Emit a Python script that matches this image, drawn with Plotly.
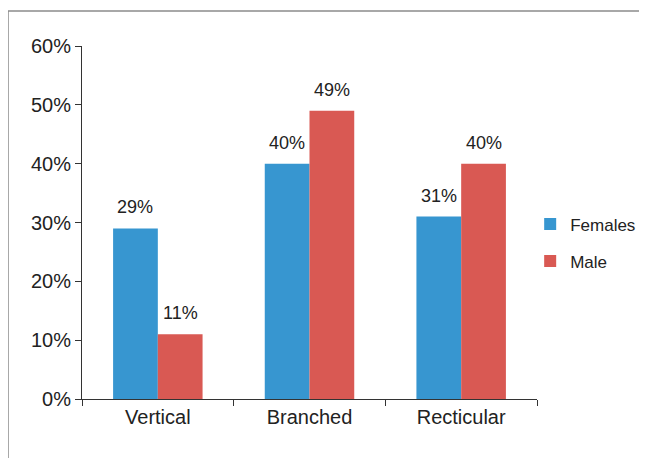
import plotly.graph_objects as go

categories = ["Vertical", "Branched", "Recticular"]
females = [29, 40, 31]
male = [11, 49, 40]
series_names = ["Females", "Male"]
colors = ["#3796D0", "#D95953"]
y_ticks = [0, 10, 20, 30, 40, 50, 60]
y_tick_labels = [f"{v}%" for v in y_ticks]

font_family = "Liberation Sans, Arial, sans-serif"
# page body adds an 8px offset; compensate in margins
L, T, PW, PH = 74, 38, 455, 353
fig = go.Figure()
for i, (name, vals) in enumerate(zip(series_names, [females, male])):
    fig.add_trace(go.Bar(
        x=categories, y=vals, name=name, marker_color=colors[i],
        marker_line_width=0, legendgroup=name, offsetgroup=str(i),
    ))

# data labels
n = len(series_names)
bw = (1 - 0.41) / n
for i, vals in enumerate([females, male]):
    for j, v in enumerate(vals):
        xoff = (i - (n - 1) / 2) * bw
        fig.add_annotation(
            x=j + xoff, y=v, xref="x", yref="y", text=f"{v}%",
            showarrow=False, yanchor="bottom", yshift=9,
            font=dict(family=font_family, size=18, color="#222"),
        )

# outer frame (reference frame at x=8, y=11 in page)
fig.add_shape(type="rect", xref="paper", yref="paper",
              x0=(8 - 82) / PW, x1=(690 - 82) / PW,
              y0=(399 - 490) / PH, y1=(399 - 11) / PH,
              line=dict(color="#8c8c8c", width=1.5), layer="below")

fig.update_layout(
    width=647, height=458,
    margin=dict(l=L, r=647 - L - PW, t=T, b=458 - T - PH, autoexpand=False),
    paper_bgcolor="white", plot_bgcolor="white",
    barmode="group", bargap=0.41, bargroupgap=0,
    font=dict(family=font_family, size=20, color="#222"),
    legend=dict(x=0.985, y=0.442, xanchor="left", yanchor="middle",
                font=dict(size=17, color="#222"), tracegroupgap=12,
                traceorder="grouped", itemwidth=30),
    showlegend=True,
)
fig.update_xaxes(
    type="category", tickson="boundaries", ticks="outside", ticklen=6,
    tickcolor="#333", showline=True, linecolor="#333", linewidth=1,
    showgrid=False, tickfont=dict(size=20), range=[-0.5, 2.5],
)
fig.update_yaxes(
    range=[0, 60], tickvals=y_ticks, ticktext=y_tick_labels,
    ticks="outside", ticklen=6, tickcolor="#333", showline=True,
    linecolor="#333", linewidth=1, showgrid=False, zeroline=False,
    tickfont=dict(size=20),
)
fig.write_html("out.html")
